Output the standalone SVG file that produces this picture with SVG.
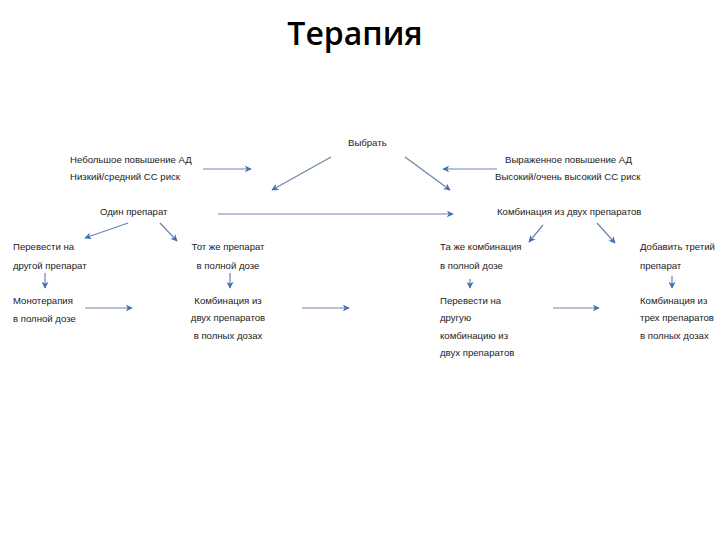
<svg xmlns="http://www.w3.org/2000/svg" width="720" height="540" viewBox="0 0 720 540">
<style>
text{font-family:"Liberation Sans",Arial,sans-serif;font-size:9.6px;fill:#222}
.c{text-anchor:middle}
.t{font-family:"Open Sans","DejaVu Sans",sans-serif;font-size:32px;font-weight:600;fill:#000}
line{stroke:#6a86a8;stroke-width:1.2;marker-end:url(#a)}
</style>
<defs><marker id="a" viewBox="0 0 10 10" refX="9" refY="5" markerWidth="7" markerHeight="7" orient="auto" markerUnits="userSpaceOnUse"><path d="M0,0L10,5L0,10L3,5z" fill="#3f6fb5"/></marker></defs>
<rect width="720" height="540" fill="#fff"/>
<text class="t c" x="355" y="45">Терапия</text>
<g id="n-choose"><text x="348" y="146">Выбрать</text></g>
<g id="n-mild"><text x="70" y="163">Небольшое повышение АД</text><text x="70" y="180">Низкий/средний СС риск</text></g>
<g id="n-severe"><text x="505" y="163">Выраженное повышение АД</text><text x="495" y="180">Высокий/очень высокий СС риск</text></g>
<g id="n-one"><text x="100" y="215">Один препарат</text></g>
<g id="n-combo"><text x="497" y="215">Комбинация из двух препаратов</text></g>
<g id="n-switch"><text x="13" y="250">Перевести на</text><text x="13" y="269">другой препарат</text></g>
<g id="n-same"><text class="c" x="228" y="250">Тот же препарат</text><text class="c" x="228" y="269">в полной дозе</text></g>
<g id="n-samecombo"><text x="440" y="250">Та же комбинация</text><text x="440" y="269">в полной дозе</text></g>
<g id="n-third"><text x="640" y="250">Добавить третий</text><text x="640" y="269">препарат</text></g>
<g id="n-mono"><text x="13" y="304">Монотерапия</text><text x="13" y="322">в полной дозе</text></g>
<g id="n-two"><text class="c" x="228" y="304">Комбинация из</text><text class="c" x="228" y="321">двух препаратов</text><text class="c" x="228" y="339">в полных дозах</text></g>
<g id="n-other"><text x="440" y="304">Перевести на</text><text x="440" y="321">другую</text><text x="440" y="339">комбинацию из</text><text x="440" y="356">двух препаратов</text></g>
<g id="n-three"><text x="640" y="304">Комбинация из</text><text x="640" y="321">трех препаратов</text><text x="640" y="339">в полных дозах</text></g>
<g id="connectors">
<line x1="203" y1="169" x2="251" y2="169"/>
<line x1="331" y1="157" x2="272" y2="190"/>
<line x1="497" y1="169" x2="443" y2="169"/>
<line x1="405" y1="157" x2="450" y2="190"/>
<line x1="218" y1="214" x2="453" y2="214"/>
<line x1="128" y1="223" x2="85" y2="238"/>
<line x1="160" y1="223" x2="177" y2="241"/>
<line x1="543" y1="225" x2="529" y2="242"/>
<line x1="597" y1="223" x2="615" y2="243"/>
<line x1="45" y1="273" x2="45" y2="288"/>
<line x1="230" y1="273" x2="230" y2="288"/>
<line x1="470" y1="279" x2="470" y2="288"/>
<line x1="672" y1="276" x2="672" y2="288"/>
<line x1="85" y1="308" x2="132" y2="308"/>
<line x1="302" y1="308" x2="349" y2="308"/>
<line x1="553" y1="308" x2="599" y2="308"/>
</g>
</svg>
